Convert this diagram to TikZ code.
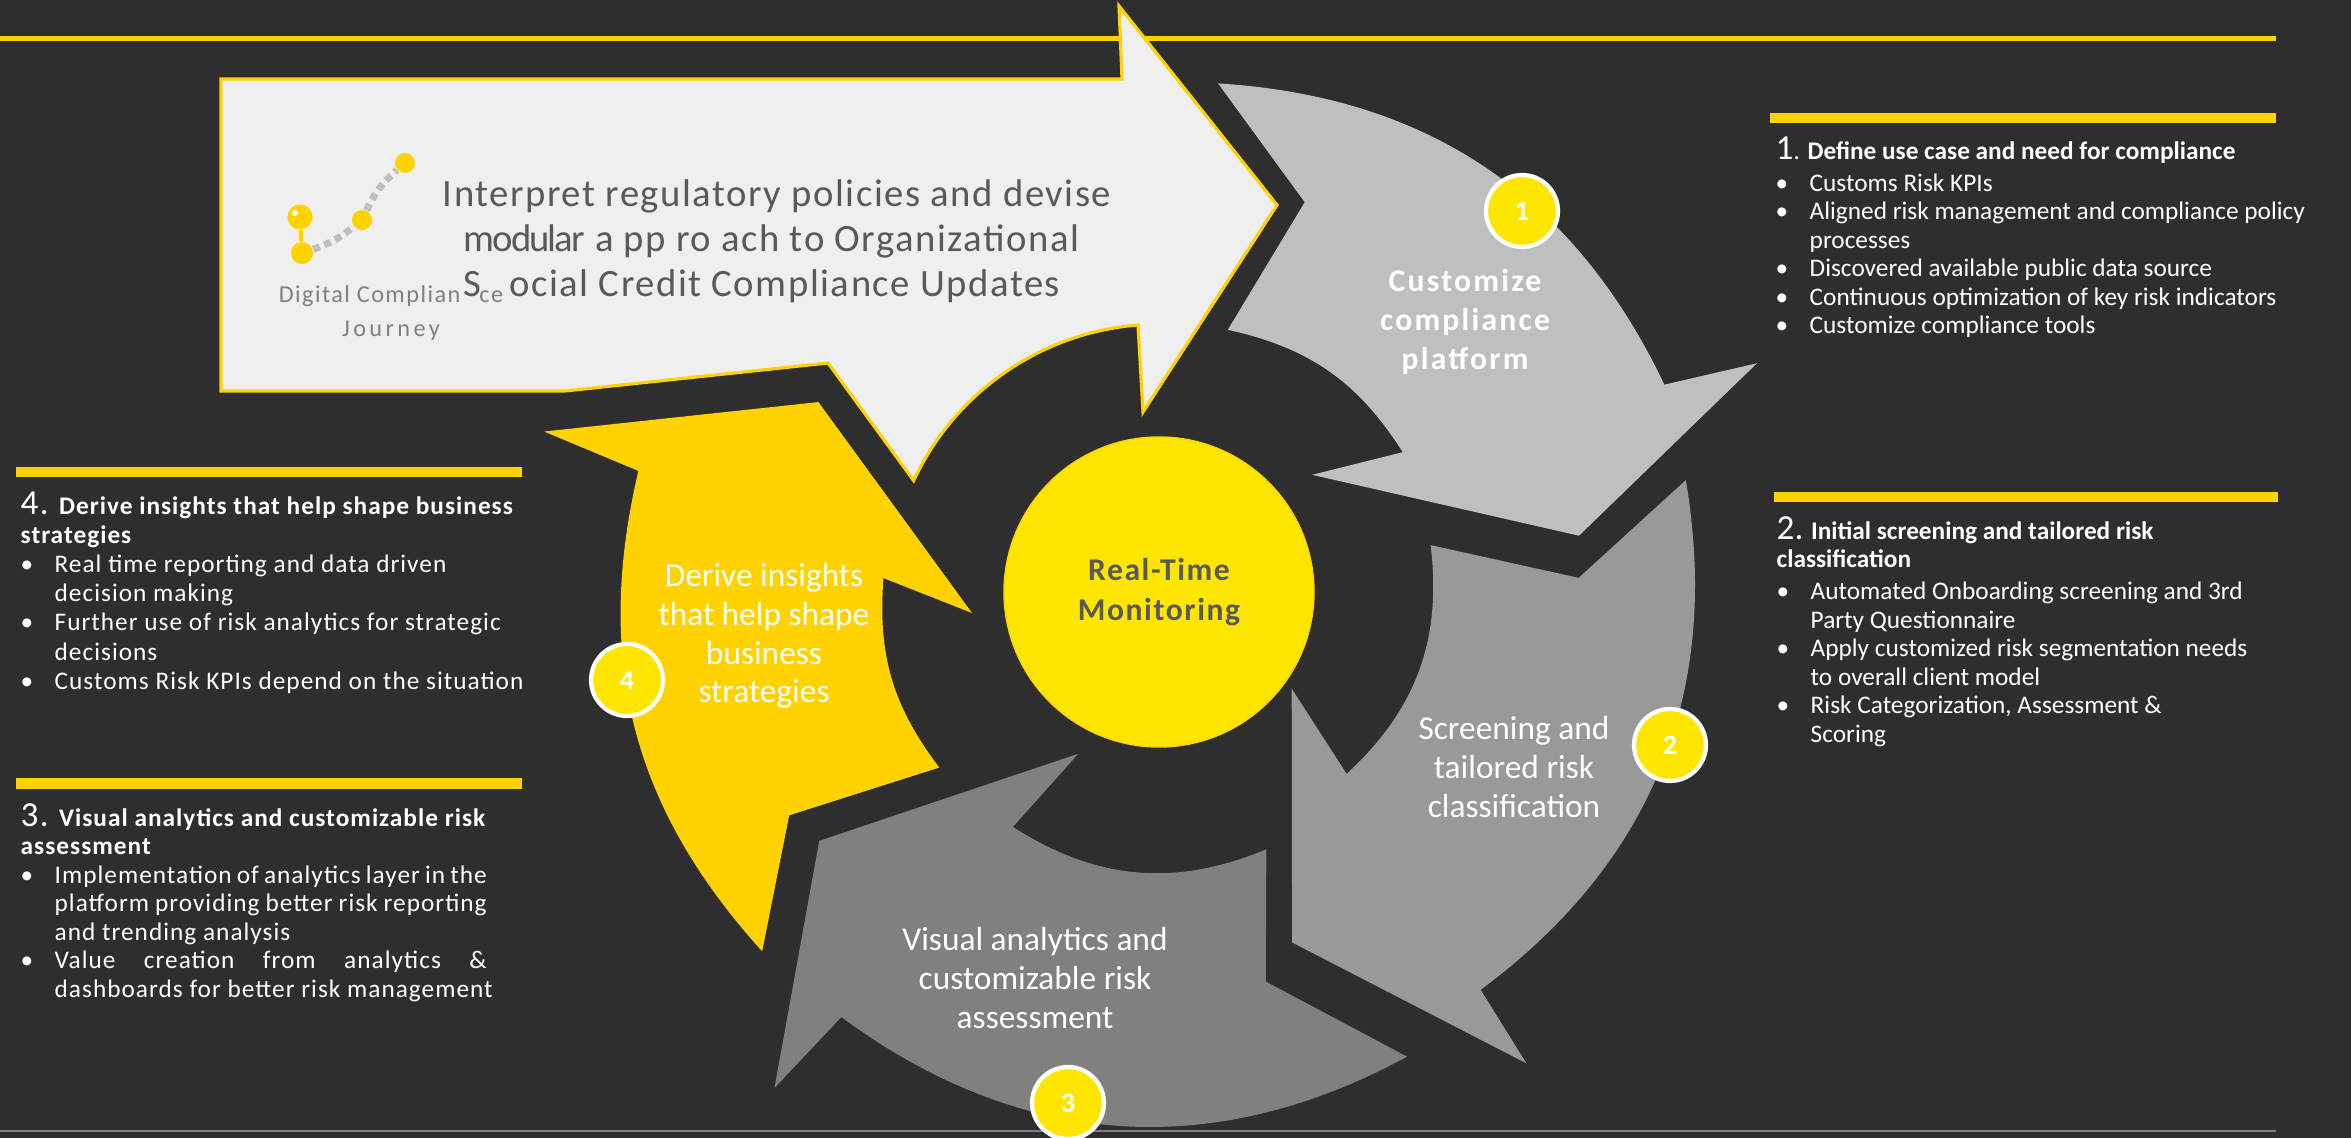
\documentclass[tikz,border=0pt]{standalone}
\usepackage{fontspec}
\setmainfont{Carlito}
\usetikzlibrary{positioning, calc}
\definecolor{bgdark}{RGB}{46,46,46}
\definecolor{barylw}{RGB}{255,210,0}
\definecolor{hubylw}{RGB}{255,230,0}
\definecolor{greyA}{RGB}{191,191,191}
\definecolor{greyB}{RGB}{153,153,153}
\definecolor{greyC}{RGB}{128,128,128}
\definecolor{paper}{RGB}{239,239,239}
\definecolor{inkgrey}{RGB}{89,89,89}
\newcommand{\bul}{\makebox[0.34cm][l]{\textbullet}}
\newcommand{\ind}{\hspace*{0.34cm}}
\newcommand{\num}[1]{{\fontsize{10}{8}\selectfont #1}}
\tikzset{
  bar/.style={fill=barylw},
  badge/.style={circle, fill=hubylw, draw=white, line width=1.2pt, minimum size=0.72cm, inner sep=0pt, text=white, font=\fontsize{8}{8}\selectfont\bfseries},
  cyctext/.style={text=white, align=center, inner sep=0pt, font=\fontsize{9.5}{11}\selectfont},
  panel/.style={text=white, align=left, anchor=north west, inner sep=0pt, font=\fontsize{7.2}{8.1}\selectfont},
  dot/.style={circle, fill=barylw, minimum size=#1, inner sep=0pt},
  dashlink/.style={greyA, line width=2pt, dash pattern=on 2pt off 1.4pt},
}

\begin{document}
\begin{tikzpicture}

	\useasboundingbox (0,0) rectangle (23.51,11.38);
	\fill[bgdark] (0,0) rectangle (23.51,11.38);

	% rules
	\fill[barylw] (0,10.97) rectangle (22.76,11.02);
	\fill[greyC] (0,0.06) rectangle (22.76,0.08);

	% cycle of arrows
	\begin{scope}[shift={(11.59,5.44)}]
		\fill[greyA] (83.4:5.14) -- (69.6:4.18) -- (75.4:2.73) to[bend left=22.6] (30.2:2.82) -- (37.9:1.94) -- (7.9:4.24) -- (21.1:6.41) -- (22.5:5.47) to[bend right=30.5] (83.4:5.14) -- cycle;
		\fill[greyB] (12.2:5.39) -- (2.2:4.20) -- (10.2:2.76) to[bend left=27] (-43.8:2.60) -- (-35.5:1.63) -- (-69.1:3.73) -- (-51.95:5.96) -- (-50.9:5.10) to[bend right=31.5] (12.2:5.39) -- cycle;
		\fill[greyC] (-61.8:5.25) -- (-74.6:4.02) -- (-67.2:2.77) to[bend left=27.5] (-122.1:2.75) -- (-116.8:1.79) -- (-144:4.20) -- (-127.9:6.26) -- (-126.9:5.29) to[bend right=32.5] (-61.8:5.25) -- cycle;
		\fill[barylw] (222:5.34) -- (210.9:4.31) -- (218.3:2.80) to[bend left=20.8] (176.7:2.76) -- (185.8:1.88) -- (150.6:3.91) -- (165.2:6.36) -- (166.7:5.35) to[bend right=27.7] (222:5.34) -- cycle;
	\end{scope}

	% big arrow on top
	\draw[barylw, line width=0.9pt, fill=paper, line join=miter] (2.21,10.59) -- (11.22,10.59) -- (11.19,11.32) -- (12.77,9.33) -- (11.43,7.26) -- (11.38,8.13) arc[start angle=94.5, end angle=155, radius=2.71] -- (8.28,7.75) -- (5.65,7.47) -- (2.21,7.47) -- cycle;

	% logo
	\node[dot=0.25cm] (pin) at (3.00,9.21) {};
	\fill[white] (2.95,9.25) circle (0.03);
	\node[dot=0.22cm] (d1) at (3.02,8.85) {};
	\node[dot=0.20cm] (d2) at (3.62,9.18) {};
	\node[dot=0.20cm] (d3) at (4.05,9.75) {};
	\draw[barylw, line width=1.2pt] (pin) -- (d1);
	\draw[dashlink] (d1) to[bend right=10] (d2);
	\draw[dashlink] (d2) to[bend left=12] (d3);
	\node[text=greyC, align=center, anchor=base, font=\fontsize{6.9}{9.7}\selectfont\addfontfeature{LetterSpace=6}] (logo) at (3.91,8.01)
		{Digital Complian\hspace{0.19cm}ce\\{\addfontfeature{LetterSpace=14}Journey}};

	\node[panel, text=inkgrey, font=\fontsize{11}{12.8}\selectfont\addfontfeature{LetterSpace=4}] (title) at (4.63,9.59)
		{\hspace*{-0.21cm}Interpret regulatory policies and devise\\{\addfontfeature{LetterSpace=-5}modular} a pp ro ach to Organizational\\S\hspace{0.28cm}ocial Credit Compliance Updates};

	% hub
	\node[circle, fill=hubylw, draw=barylw, minimum size=3.1cm, inner sep=0pt, text=inkgrey, align=center,
		font=\fontsize{9}{11.4}\selectfont\bfseries\addfontfeature{LetterSpace=5}] (hub) at (11.59,5.46) {Real-Time\\Monitoring};

	% labels on the arrows
	\node[cyctext, font=\fontsize{9}{11}\selectfont\bfseries\addfontfeature{LetterSpace=7}] (lblA) at (14.65,8.16) {Customize\\compliance\\platform};
	\node[cyctext] (lblB) at (15.14,3.71) {Screening and\\tailored risk\\classification};
	\node[cyctext] (lblC) at (10.35,1.60) {Visual analytics and\\customizable risk\\assessment};
	\node[cyctext] (lblD) at (7.64,5.02) {Derive insights\\that help shape\\business\\strategies};

	\node[badge] (b1) at (15.22,9.27) {1};
	\node[badge] (b2) at (16.70,3.93) {2};
	\node[badge] (b3) at (10.68,0.35) {3};
	\node[badge] (b4) at (6.27,4.58) {4};

	% right panels
	\fill[bar] (17.70,10.15) rectangle (22.76,10.25);
	\node[panel] (useCase) at (17.75,10.02)
		{\num{1}. \textbf{Define use case and need for compliance}\\[1pt]
		\bul Customs Risk KPIs\\
		\bul Aligned risk management and compliance policy\\
		\ind processes\\
		\bul Discovered available public data source\\
		\bul Continuous optimization of key risk indicators\\
		\bul Customize compliance tools};

	\fill[bar] (17.74,6.36) rectangle (22.78,6.46);
	\node[panel] (screening) at (17.76,6.22)
		{\num{2.} \textbf{Initial screening and tailored risk}\\
		\textbf{classification}\\[1pt]
		\bul Automated Onboarding screening and 3rd\\
		\ind Party Questionnaire\\
		\bul Apply customized risk segmentation needs\\
		\ind to overall client model\\
		\bul Risk Categorization, Assessment \&\\
		\ind Scoring};

	% left panels
	\fill[bar] (0.16,6.61) rectangle (5.22,6.71);
	\node[panel, font=\fontsize{7.2}{8.3}\selectfont\addfontfeature{LetterSpace=4}] (insights) at (0.20,6.47)
		{\num{4.} \textbf{Derive insights that help shape business}\\
		\textbf{strategies}\\
		\bul Real time reporting and data driven\\
		\ind decision making\\
		\bul Further use of risk analytics for strategic\\
		\ind decisions\\
		\bul Customs Risk KPIs depend on the situation};

	\fill[bar] (0.16,3.49) rectangle (5.22,3.60);
	\node[panel, font=\fontsize{7.2}{8.1}\selectfont\addfontfeature{LetterSpace=4}] (analytics) at (0.20,3.35)
		{\num{3.} \textbf{Visual analytics and customizable risk}\\
		\textbf{assessment}\\
		\bul \makebox[4.32cm][s]{Implementation of analytics layer in the}\\
		\ind \makebox[4.32cm][s]{platform providing better risk reporting}\\
		\ind and trending analysis\\
		\bul \makebox[4.32cm][s]{Value creation from analytics \&}\\
		\ind dashboards for better risk management};

\end{tikzpicture}
\end{document}
